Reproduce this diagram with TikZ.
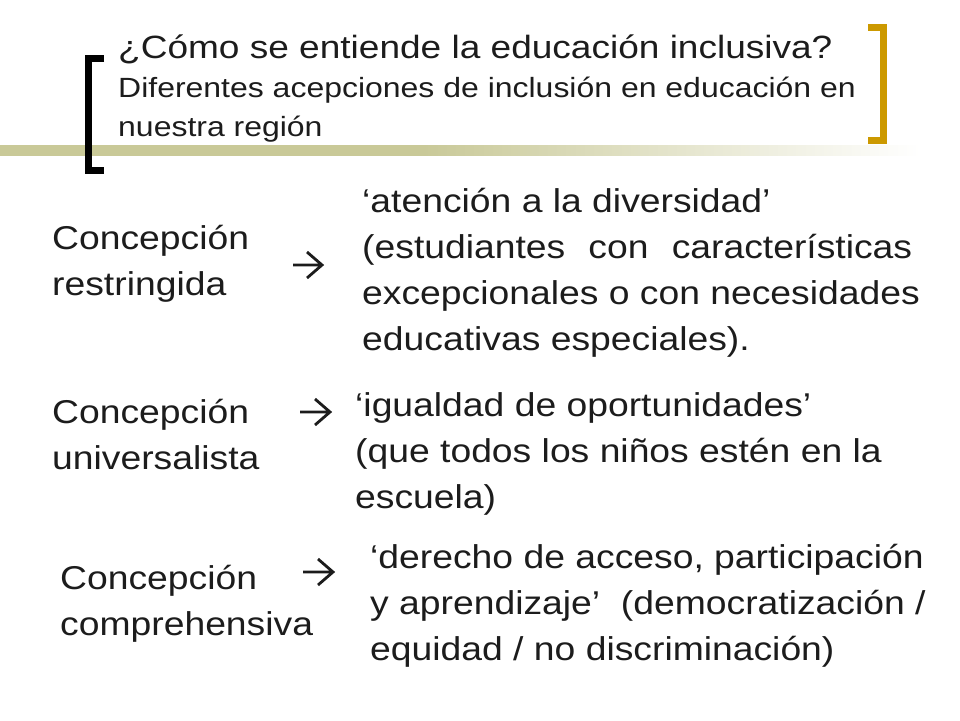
\documentclass[tikz,border=0pt]{standalone}
\usepackage{fontspec}
\setmainfont{Liberation Sans}[FakeStretch=1.13]
\newfontfamily\headfont{Liberation Sans}[FakeStretch=1.15]
\definecolor{barolive}{RGB}{201,201,152}
\definecolor{brgold}{RGB}{204,153,0}
\definecolor{txt}{RGB}{28,28,28}
\pgfdeclarehorizontalshading{barra}{100bp}{color(0bp)=(barolive); color(48bp)=(barolive); color(75bp)=(white); color(100bp)=(white)}
\tikzset{
  body/.style={anchor=base west,align=left,inner sep=0pt,text=txt,
    font=\fontsize{33}{46}\selectfont},
  head/.style={anchor=base west,align=left,inner sep=0pt,text=txt,
    font=\headfont\fontsize{27.8}{39}\selectfont},
  flecha/.style={txt,line width=2.8pt,line join=miter}
}
\begin{document}
\begin{tikzpicture}[x=1pt,y=-1pt]
  \useasboundingbox (0,0) rectangle (960,720);
  % cabecera
  \shade[shading=barra] (0,145) rectangle (920,155);
  \draw[line width=7pt] (104,58.5) -| (88.5,170.5) -- (104,170.5);
  \draw[brgold,line width=7pt] (868,27.5) -| (883.5,140.5) -- (868,140.5);
  \node[head,font=\headfont\fontsize{32.2}{39}\selectfont] (titulo) at (118,58.5) {¿Cómo se entiende la educación inclusiva?};
  \node[head] (subt) at (118,136) {Diferentes acepciones de inclusión en educación en\\nuestra región};
  % concepciones
  \node[body] (restr) at (52,295) {Concepción\\restringida};
  \coordinate (a1) at (293,265);
  \draw[flecha] (a1) -- ++(29,0) ++(-15,-13) -- ++(15,13) -- ++(-15,13);
  \node[body] (diver) at (362,350) {‘atención a la diversidad’\\\makebox[550pt][s]{(estudiantes con características}\\excepcionales o con necesidades\\educativas especiales).};
  \node[body] (univ) at (52,469) {Concepción\\universalista};
  \coordinate (a2) at (300,412);
  \draw[flecha] (a2) -- ++(30,0) ++(-15,-13) -- ++(15,13) -- ++(-15,13);
  \node[body] (igual) at (355,508) {‘igualdad de oportunidades’\\(que todos los niños estén en la\\escuela)};
  \node[body] (compr) at (60,635) {Concepción\\comprehensiva};
  \coordinate (a3) at (303,572);
  \draw[flecha] (a3) -- ++(30,0) ++(-15,-13) -- ++(15,13) -- ++(-15,13);
  \node[body] (derecho) at (370,660) {‘derecho de acceso, participación\\y aprendizaje’~~(democratización /\\equidad / no discriminación)};
\end{tikzpicture}
\end{document}
